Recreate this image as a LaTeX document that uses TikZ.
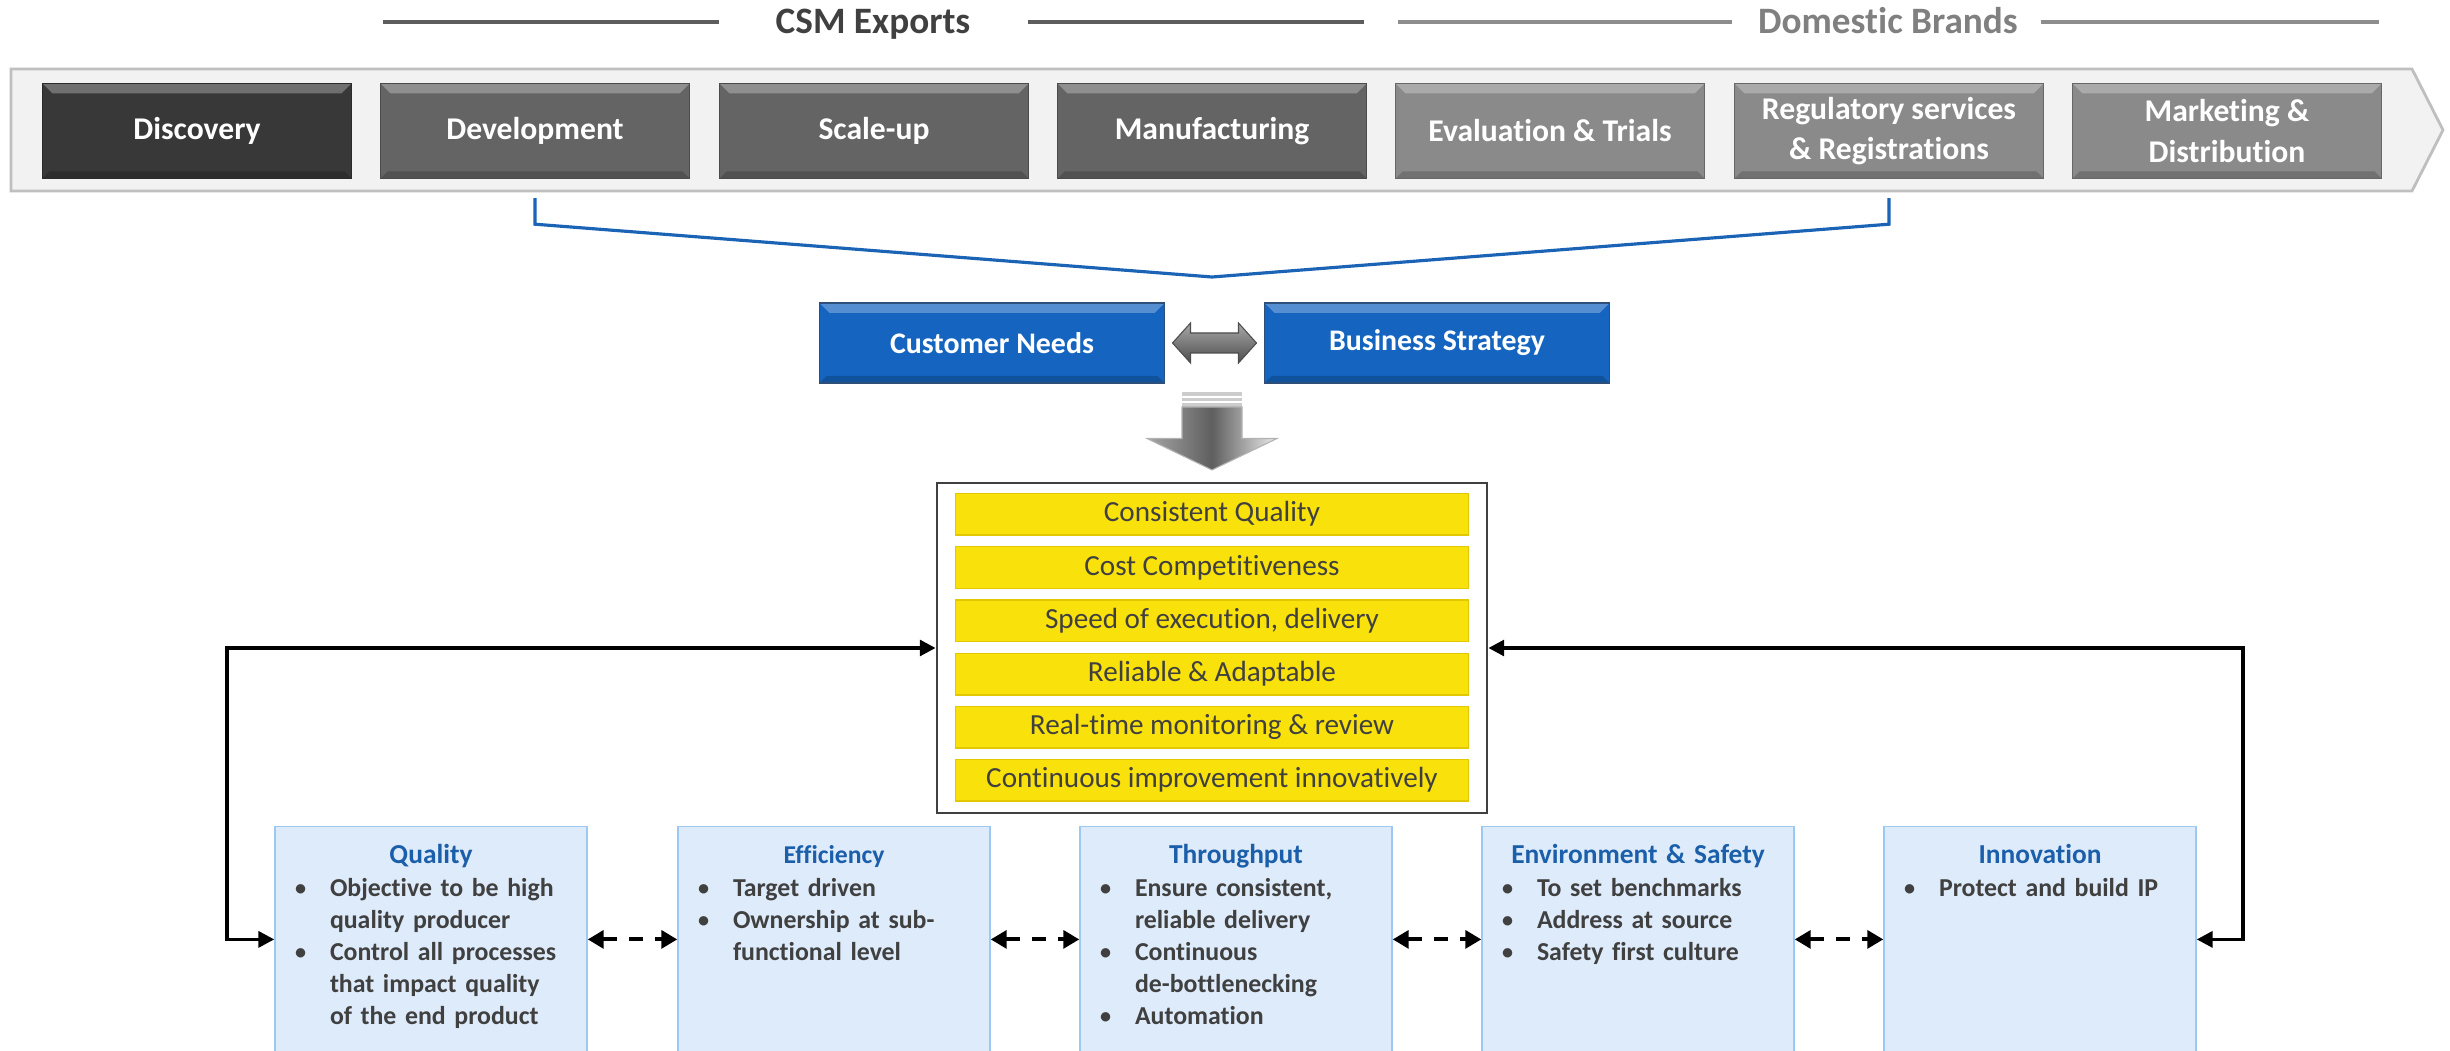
\documentclass[tikz,border=0pt]{standalone}
\usepackage{fontspec}
\setmainfont{Carlito}[Ligatures=CommonOff]
\usepackage{tikz}
\usetikzlibrary{arrows.meta,calc}

\definecolor{stageA}{HTML}{383838}
\definecolor{stageB}{HTML}{646464}
\definecolor{stageC}{HTML}{8A8A8A}
\definecolor{ribbon}{HTML}{F2F2F2}
\definecolor{ribbonedge}{HTML}{BFBFBF}
\definecolor{csmgray}{HTML}{404040}
\definecolor{domgray}{HTML}{808080}
\definecolor{bracketblue}{HTML}{1A63B5}
\definecolor{needblue}{HTML}{1565C0}
\definecolor{neededge}{HTML}{2E4F7A}
\definecolor{arrowlight}{HTML}{A8A8A8}
\definecolor{arrowdark}{HTML}{4D4D4D}
\definecolor{goalyellow}{HTML}{F9E10C}
\definecolor{goaledge}{HTML}{E2C800}
\definecolor{pillarfill}{HTML}{DEEBFA}
\definecolor{pillaredge}{HTML}{9CC8F2}
\definecolor{pillartitle}{HTML}{1B5FAA}
\definecolor{bodygray}{HTML}{404040}

% title and bullet lines inside the lower boxes
\newcommand{\ptitle}[2][7.8]{{\centering\color{pillartitle}\fontsize{#1}{9.1}\selectfont #2\par}\vspace{0.4pt}}
\newcommand{\pitem}[1]{\par\hangindent=0.45cm\hangafter=1\noindent\hspace*{0.1cm}\makebox[0.35cm][l]{\raisebox{0.3pt}{\fontsize{6.3}{6}\selectfont\textbullet}}#1\par}

\begin{document}
\begin{tikzpicture}[
  bevel/.style={path picture={
    \fill[white,opacity=.28] (path picture bounding box.north west) -- (path picture bounding box.north east)
      -- ([xshift=-1mm,yshift=-1mm]path picture bounding box.north east) -- ([xshift=1mm,yshift=-1mm]path picture bounding box.north west) -- cycle;
    \fill[black,opacity=.18] (path picture bounding box.south west) -- (path picture bounding box.south east)
      -- ([xshift=-0.7mm,yshift=0.7mm]path picture bounding box.south east) -- ([xshift=0.7mm,yshift=0.7mm]path picture bounding box.south west) -- cycle;}},
  stage/.style={draw=#1!75!black, fill=#1, bevel, minimum width=3.09cm, minimum height=0.95cm, inner sep=0pt,
    align=center, text=white, font=\fontsize{9}{11.5}\selectfont\bfseries},
  need/.style={draw=neededge, fill=needblue, bevel, minimum width=3.45cm, minimum height=0.8cm, inner sep=0pt,
    text=white, font=\fontsize{8.5}{10}\selectfont\bfseries},
  goal/.style={draw=goaledge, fill=goalyellow, minimum width=5.13cm, minimum height=0.417cm, inner sep=0pt,
    text=bodygray, font=\fontsize{8.3}{10}\selectfont},
  pillar/.style={draw=pillaredge, fill=pillarfill, anchor=north, text width=2.92cm, inner xsep=0.1cm, inner ysep=0pt,
    text height=0.367cm, text depth=2.1cm, align=left, text=bodygray, font=\fontsize{7.35}{9.1}\selectfont\bfseries},
  link/.style={line width=1.1pt, dash pattern=on 4pt off 3.5pt, {Triangle[length=4.5pt,width=5pt]}-{Triangle[length=4.5pt,width=5pt]}},
  fbk/.style={line width=1pt, {Triangle[length=4.5pt,width=4.5pt]}-{Triangle[length=4.5pt,width=4.5pt]}}
]
\useasboundingbox (0,0) rectangle (24.5,10.5);
\clip (0,0) rectangle (24.5,10.5);

% value chain band
\draw[ribbonedge, fill=ribbon, line width=0.8pt] (0.11,9.81) -- (24.12,9.81) -- (24.43,9.2) -- (24.12,8.59) -- (0.11,8.59) -- cycle;

\node[stage=stageA] (disc) at (1.97,9.19) {Discovery};
\node[stage=stageB] (dev) at (5.35,9.19) {Development};
\node[stage=stageB] (scale) at (8.74,9.19) {Scale-up};
\node[stage=stageB] (manu) at (12.12,9.19) {Manufacturing};
\node[stage=stageC] (eval) at (15.50,9.19) {Evaluation \& Trials};
\node[stage=stageC] (reg) at (18.89,9.19) {Regulatory services\\\& Registrations};
\node[stage=stageC] (mkt) at (22.27,9.19) {Marketing \&\\Distribution};

% segment headings
\node[anchor=base, text=csmgray, font=\fontsize{10.6}{12}\selectfont\bfseries] (csm) at (8.73,10.167) {CSM Exports};
\node[anchor=base, text=domgray, font=\fontsize{10.6}{12}\selectfont\bfseries] (dom) at (18.88,10.167) {Domestic Brands};
\draw[csmgray!85, line width=1.2pt] (3.83,10.283) -- (7.19,10.283);
\draw[csmgray!85, line width=1.2pt] (10.28,10.283) -- (13.64,10.283);
\draw[domgray!90, line width=1.2pt] (13.98,10.283) -- (17.32,10.283);
\draw[domgray!90, line width=1.2pt] (20.41,10.283) -- (23.79,10.283);

% bracket down to the drivers
\coordinate (meet) at (12.12,7.73);
\draw[bracketblue, line width=0.9pt] ([yshift=-1.9mm]dev.south) -- ++(0,-2.6mm) -- (meet)
  -- ([yshift=-4.5mm]reg.south) -- ([yshift=-1.9mm]reg.south);

\node[need] (cust) at (9.92,7.07) {Customer Needs};
\node[need] (biz) at (14.37,7.07) {Business Strategy};

% two-way block arrow
\coordinate (dbl) at ($(cust.east)!0.5!(biz.west)$);
\begin{scope}[shift={(dbl)}]
\shade[top color=arrowlight, bottom color=arrowdark, draw=arrowdark, line width=0.3pt]
  (-0.42,0) -- (-0.24,0.2) -- (-0.24,0.1) -- (0.24,0.1) -- (0.24,0.2) -- (0.42,0)
  -- (0.24,-0.2) -- (0.24,-0.1) -- (-0.24,-0.1) -- (-0.24,-0.2) -- cycle;
\end{scope}

% striped arrow into the goals
\coordinate (drop) at (12.12,6.58);
\begin{scope}[shift={(drop)}]
\fill[gray!40] (-0.3,0) rectangle (0.3,-0.15);
\draw[white, line width=0.8pt] (-0.3,-0.05) -- (0.3,-0.05) (-0.3,-0.10) -- (0.3,-0.10);
\shade[left color=gray!70, right color=gray!15, middle color=arrowdark!90, draw=gray!60, line width=0.3pt]
  (-0.3,-0.15) -- (0.3,-0.15) -- (0.3,-0.465) -- (0.65,-0.465) -- (0,-0.78) -- (-0.65,-0.465) -- (-0.3,-0.465) -- cycle;
\end{scope}

% goals panel
\node[draw=bodygray, line width=0.8pt, minimum width=5.5cm, minimum height=3.3cm] (panel) at (12.12,4.02) {};
\node[goal] (g1) at (12.12,5.359) {Consistent Quality};
\node[goal] (g2) at (12.12,4.825) {Cost Competitiveness};
\node[goal] (g3) at (12.12,4.292) {Speed of execution, delivery};
\node[goal] (g4) at (12.12,3.759) {Reliable \& Adaptable};
\node[goal] (g5) at (12.12,3.227) {Real-time monitoring \& review};
\node[goal] (g6) at (12.12,2.698) {Continuous improvement innovatively};

% focus areas
\node[pillar] (qual) at (4.31,2.244) {\ptitle{Quality}\pitem{Objective to be high\newline quality producer}\pitem{Control all processes\newline that impact quality\newline of the end product}};
\node[pillar] (eff) at (8.34,2.244) {\ptitle[7.3]{Efficiency}\pitem{Target driven}\pitem{Ownership at sub-\newline functional level}};
\node[pillar] (thru) at (12.36,2.244) {\ptitle{Throughput}\pitem{Ensure consistent,\newline reliable delivery}\pitem{Continuous\newline de-bottlenecking}\pitem{Automation}};
\node[pillar] (env) at (16.38,2.244) {\ptitle{Environment \& Safety}\pitem{To set benchmarks}\pitem{Address at source}\pitem{Safety first culture}};
\node[pillar] (inno) at (20.40,2.244) {\ptitle{Innovation}\pitem{Protect and build IP}};

\coordinate (lvl) at (0,1.106);
\draw[link] (qual.east |- lvl) -- (eff.west |- lvl);
\draw[link] (eff.east |- lvl) -- (thru.west |- lvl);
\draw[link] (thru.east |- lvl) -- (env.west |- lvl);
\draw[link] (env.east |- lvl) -- (inno.west |- lvl);

% feedback to the goals
\coordinate (lturn) at (2.27,4.02);
\coordinate (rturn) at (22.43,4.02);
\draw[fbk] (qual.west |- lvl) -| (lturn) -- (panel.west);
\draw[fbk] (inno.east |- lvl) -| (rturn) -- (panel.east);
\end{tikzpicture}
\end{document}
